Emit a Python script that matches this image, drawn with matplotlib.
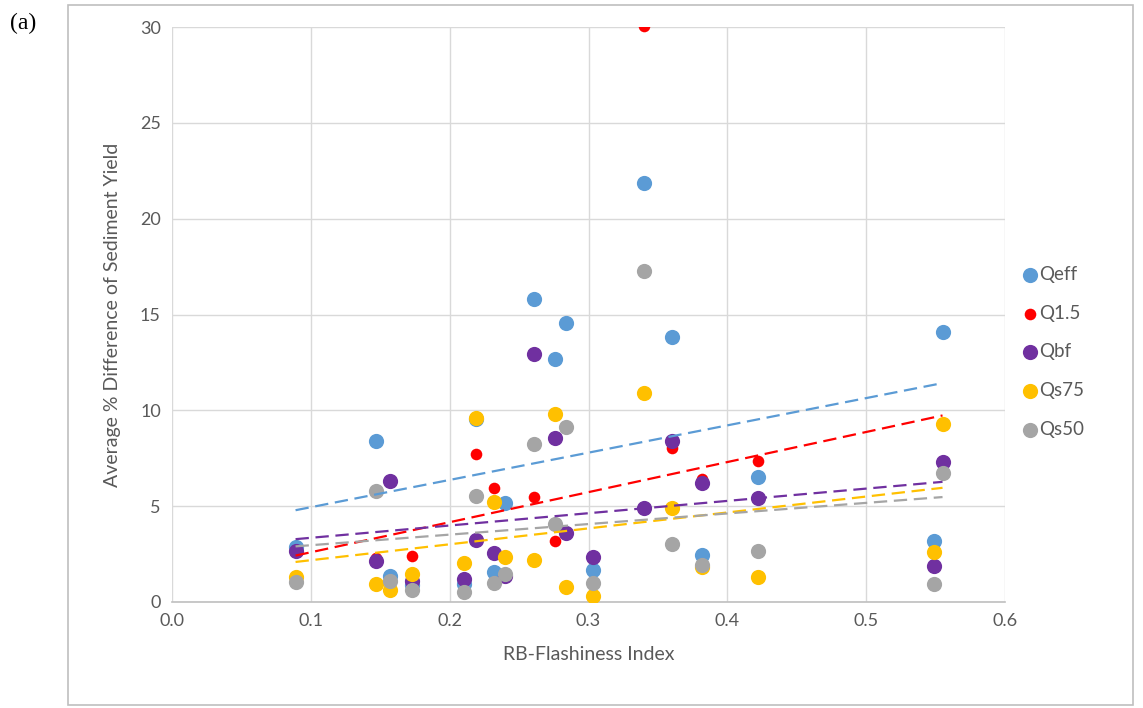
import numpy as np
import matplotlib.pyplot as plt
from matplotlib.patches import Rectangle

# RB-Flashiness index of each site
rb_index = [0.089, 0.147, 0.157, 0.173, 0.210, 0.219, 0.232, 0.240, 0.261,
            0.276, 0.284, 0.303, 0.340, 0.360, 0.382, 0.422, 0.549, 0.555]

# average % difference of sediment yield per discharge measure
qeff = [2.87, 8.40, 1.36, 0.90, 0.94, 9.55, 1.57, 5.16, 15.80,
        12.68, 14.55, 1.67, 21.86, 13.82, 2.45, 6.52, 3.20, 14.10]
q15 = [2.70, 2.30, 0.65, 2.40, 0.55, 7.72, 5.95, 1.40, 5.48,
       3.18, 3.60, 0.35, 30.05, 8.03, 6.42, 7.35, 2.60, 9.30]
qbf = [2.66, 2.14, 6.31, 1.10, 1.20, 3.23, 2.56, 1.35, 12.94,
       8.55, 3.60, 2.35, 4.88, 8.40, 6.20, 5.43, 1.90, 7.30]
qs75 = [1.30, 0.92, 0.63, 1.46, 2.03, 9.60, 5.22, 2.37, 2.19,
        9.81, 0.78, 0.31, 10.90, 4.90, 1.83, 1.30, 2.63, 9.29]
qs50 = [1.04, 5.79, 1.12, 0.65, 0.52, 5.53, 0.99, 1.46, 8.24,
        4.07, 9.13, 0.99, 17.27, 3.03, 1.93, 2.66, 0.96, 6.72]

names = ["Qeff", "Q1.5", "Qbf", "Qs75", "Qs50"]
colors = ["#5B9BD5", "#FF0000", "#7030A0", "#FFC000", "#A5A5A5"]
sizes = [120, 70, 120, 120, 120]

plt.rcParams['font.family'] = ['Lato', 'DejaVu Sans']

fig = plt.figure(figsize=(11.43, 7.08), dpi=100)
ax = fig.add_axes([172 / 1143, 1 - 602 / 708, (1005 - 172) / 1143, (602 - 27) / 708])

x = np.array(rb_index)
for name, ys, c, s in zip(names, [qeff, q15, qbf, qs75, qs50], colors, sizes):
    ax.scatter(x, ys, s=s, color=c, label=name, zorder=3, linewidths=0)

# linear trendlines
for ys, c in zip([qeff, q15, qbf, qs75, qs50], colors):
    m, b = np.polyfit(x, ys, 1)
    xx = np.array([x.min(), x.max()])
    ax.plot(xx, m * xx + b, color=c, lw=1.6, dashes=(6, 3), zorder=4)

ax.set_xlim(0, 0.6)
ax.set_ylim(0, 30)
ax.set_xticks(np.arange(0, 0.61, 0.1))
ax.set_xticklabels([f"{v:.1f}" for v in np.arange(0, 0.61, 0.1)])
ax.set_yticks(range(0, 31, 5))
ax.grid(True, color="#d9d9d9", lw=1)
ax.set_axisbelow(True)
for side in ["left", "right", "top"]:
    ax.spines[side].set_visible(False)
ax.spines["bottom"].set_color("#bfbfbf")
ax.spines["bottom"].set_linewidth(1.2)
ax.tick_params(length=0, labelsize=13, colors="#595959", pad=8)

ax.set_xlabel("RB-Flashiness Index", fontsize=14, color="#595959", labelpad=12)
ax.set_ylabel("Average % Difference of Sediment Yield", fontsize=14,
              color="#595959", labelpad=14)

leg = ax.legend(loc="center left", bbox_to_anchor=(1.01, 0.435), frameon=False,
                fontsize=13.5, handletextpad=0.0, labelspacing=1.15,
                borderaxespad=0, handlelength=1.0)
for t in leg.get_texts():
    t.set_color("#595959")

fig.patches.append(Rectangle((68 / 1143, 1 - 705 / 708), (1133 - 68) / 1143,
                             (705 - 5) / 708, transform=fig.transFigure,
                             fill=False, edgecolor="#bfbfbf", lw=1.2))
fig.text(10 / 1143, 1 - 23 / 708, "(a)", family="Liberation Serif",
         fontsize=17, va="center")

fig.savefig("out.png", dpi=100)
